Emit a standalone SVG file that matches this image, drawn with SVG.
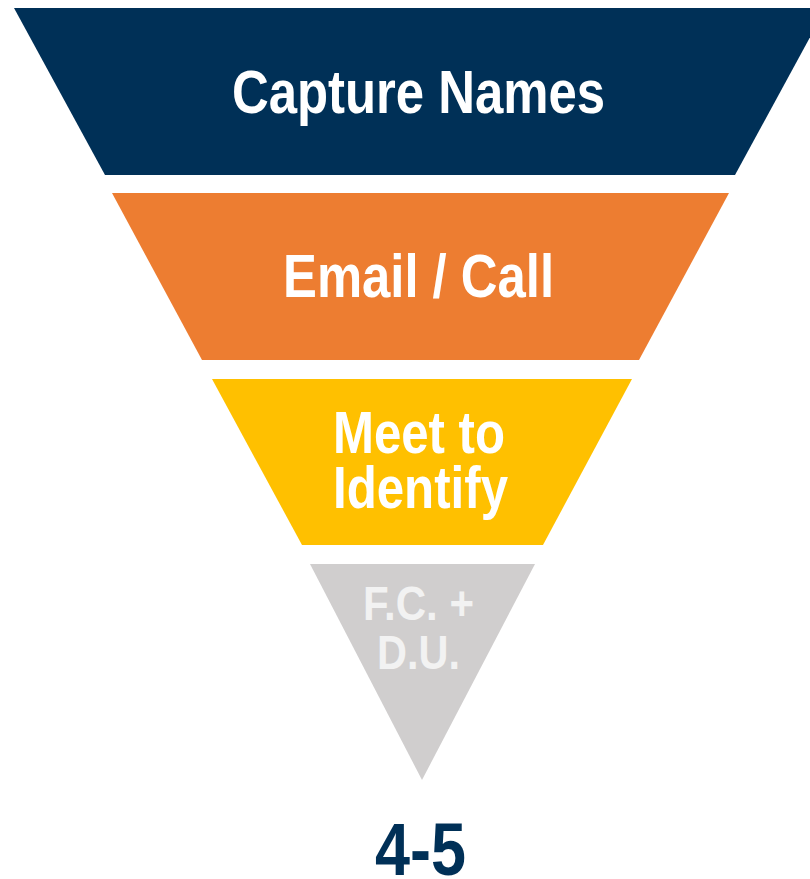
<svg xmlns="http://www.w3.org/2000/svg" width="810" height="879" viewBox="0 0 810 879">
<style>
.t{font-family:"Liberation Sans Narrow","Liberation Sans",Arial,sans-serif;font-weight:bold;text-anchor:middle;fill:#ffffff}
.g{fill:#f2f2f2}
</style>
<rect width="810" height="879" fill="#ffffff"/>
<g id="capture">
<polygon points="14,8 826,8 735,175 105,175" fill="#003057"/>
<text class="t" x="418.5" y="113" font-size="61" textLength="373" lengthAdjust="spacingAndGlyphs">Capture Names</text>
</g>
<g id="email">
<polygon points="112,193 729,193 639,360 202,360" fill="#ED7D31"/>
<text class="t" x="418.5" y="297" font-size="62" textLength="271" lengthAdjust="spacingAndGlyphs">Email / Call</text>
</g>
<g id="meet">
<polygon points="212,379 632,379 543,545 302,545" fill="#FFC000"/>
<text class="t" x="419" y="453" font-size="60" textLength="172" lengthAdjust="spacingAndGlyphs">Meet to</text>
<text class="t" x="420.5" y="508" font-size="60" textLength="175" lengthAdjust="spacingAndGlyphs">Identify</text>
</g>
<g id="fcdu">
<polygon points="310,564 535,564 422,780" fill="#D0CECE"/>
<text class="t g" x="418.5" y="620" font-size="49" textLength="111" lengthAdjust="spacingAndGlyphs">F.C. +</text>
<text class="t g" x="418.5" y="669" font-size="49" textLength="83" lengthAdjust="spacingAndGlyphs">D.U.</text>
</g>
<g id="count">
<text class="t" x="420.5" y="875" font-size="74" fill="#003057" style="fill:#003057" textLength="91" lengthAdjust="spacingAndGlyphs">4-5</text>
</g>
<g id="connectors"/>
</svg>
